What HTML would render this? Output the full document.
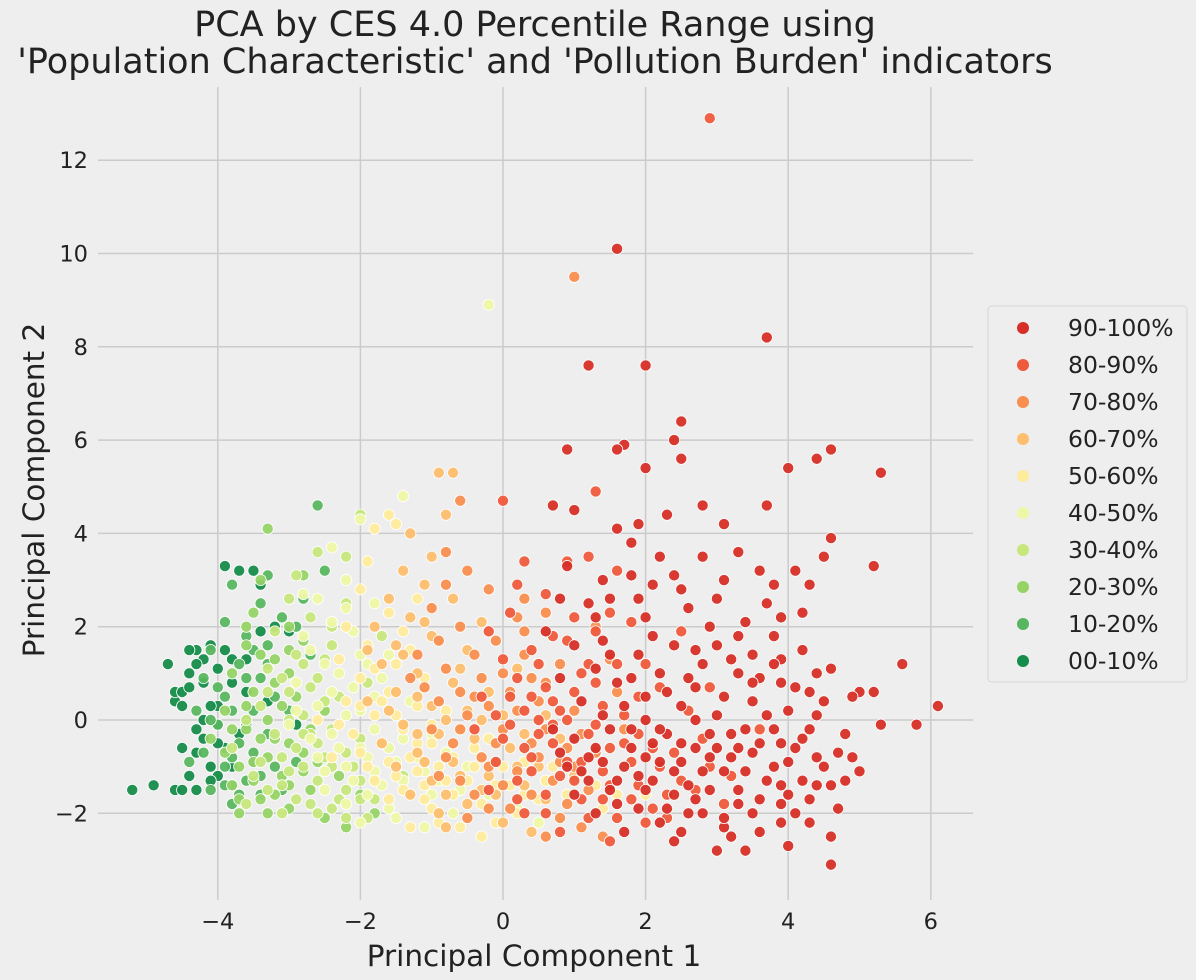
<!DOCTYPE html>
<html><head><meta charset="utf-8"><style>
body{margin:0;background:#eeeeee;}
svg{display:block;font-family:"DejaVu Sans","Liberation Sans",sans-serif;}
</style></head><body>
<svg id="chart" width="1196" height="980" viewBox="0 0 1196 980">
<rect width="1196" height="980" fill="#eeeeee"/>
<text x="535" y="36" text-anchor="middle" font-size="35" fill="#222">PCA by CES 4.0 Percentile Range using</text>
<text x="535" y="73" text-anchor="middle" font-size="35" fill="#222">'Population Characteristic' and 'Pollution Burden' indicators</text>
<g id="grid"></g><g id="ticks"></g><g id="points"></g>
<text x="534" y="966" text-anchor="middle" font-size="29.5" fill="#222">Principal Component 1</text>
<text transform="translate(44,490) rotate(-90)" text-anchor="middle" font-size="29.5" fill="#222">Principal Component 2</text>
<g id="legend">
<rect x="988" y="306" width="199" height="376" rx="4" fill="#eeeeee" stroke="#d6d6d6" stroke-width="1"/>
</g>
</svg>
<script>
const labels=["90-100%","80-90%","70-80%","60-70%","50-60%","40-50%","30-40%","20-30%","10-20%","00-10%"];
const colors=["#d62f27","#ee5a3c","#f88e4f","#fdbe6e","#feeb9c","#eef7a6","#c6e77c","#95d366","#57b65f","#168c4a"];
const xTicks=[-4,-2,0,2,4,6];
const yTicks=[-2,0,2,4,6,8,10,12];
const c90=[[1.6,10.1],[3.7,8.2],[1.2,7.6],[2.0,7.6],[1.7,5.9],[1.6,5.8],[2.4,6.0],[2.5,6.4],[2.5,5.6],[4.0,5.4],[4.6,5.8],[5.3,5.3],[4.4,5.6],[0.9,5.8],[2.0,5.4],[5.6,1.2],[6.1,0.3],[5.8,-0.1],[4.6,-3.1],[4.0,-2.7],[3.7,4.6],[3.3,3.6],[5.2,3.3],[4.6,3.9],[4.5,3.5],[2.8,4.6],[2.3,4.4],[1.9,4.2],[1.6,4.1],[1.0,4.5],[0.7,4.6],[1.8,3.8],[2.4,3.1],[3.1,4.2],[4.1,3.2],[4.3,2.9],[3.8,2.9],[3.0,2.6],[2.1,2.9],[1.8,3.1],[1.2,2.5],[0.8,2.6],[0.6,1.9],[1.4,1.7],[2.0,2.2],[2.6,2.4],[3.4,2.1],[3.8,1.8],[4.2,1.5],[4.6,1.1],[5.0,0.6],[4.9,0.5],[5.2,0.6],[5.3,-0.1],[4.8,-0.3],[4.7,-0.7],[4.5,-1.0],[4.2,-1.3],[3.9,-1.4],[4.4,-1.4],[4.7,-1.9],[4.6,-2.5],[3.9,-2.2],[3.6,-2.4],[3.5,-2.0],[3.1,-2.3],[2.8,-2.0],[2.5,-2.4],[2.3,-1.9],[2.0,-1.5],[1.6,-1.8],[1.2,-1.3],[0.9,-1.0],[1.0,-0.4],[1.5,-0.2],[2.0,0.0],[2.5,0.3],[3.0,0.1],[3.5,0.4],[4.0,0.2],[3.6,-0.5],[3.2,-0.8],[2.7,-0.6],[2.2,-0.9],[1.8,-0.6],[1.4,-0.9],[1.1,0.4],[1.6,0.8],[2.2,1.0],[2.8,1.2],[3.3,1.0],[3.9,0.8],[4.3,0.6],[2.4,1.6],[1.9,1.4],[3.0,1.6],[3.5,1.4],[0.8,0.9],[1.3,1.1],[2.6,-1.4],[3.3,-1.5],[3.8,-1.0],[1.9,-1.2],[2.9,-0.3],[0.7,-0.2],[1.7,0.3],[2.3,-0.3],[3.7,2.5],[4.2,2.3],[1.5,2.6],[2.8,3.5],[0.9,3.3],[2.2,-2.2],[3.0,-2.8],[3.4,-2.8],[4.9,-0.8],[5.0,-1.1],[2.1,-0.5],[2.7,0.7],[3.4,-0.2],[1.3,-0.6],[4.1,-0.6],[3.6,0.9],[2.4,-1.1],[1.8,0.9],[3.1,-1.1],[4.4,0.1],[2.9,2.0],[3.9,1.3],
[1.1,-1.1],[1.3,-2.0],[1.5,-1.5],[1.7,-1.0],[1.9,-1.9],[2.1,-1.3],[2.2,-0.2],[2.4,-1.6],[2.5,-0.9],[2.6,-2.0],[2.7,-1.7],[2.8,-1.1],[2.9,-1.5],[3.0,-0.6],[3.1,-2.1],[3.2,-0.3],[3.3,-1.8],[3.4,-1.1],[3.5,-0.7],[3.6,-1.7],[3.7,-1.3],[3.8,-0.2],[3.9,-1.8],[4.0,-0.9],[4.1,-2.0],[4.2,-0.4],[4.3,-1.7],[4.4,-0.8],[4.6,-1.4],[4.8,-1.3],[1.2,-0.8],[1.4,0.1],[1.6,-1.3],[1.8,-0.2],[2.0,-0.8],[2.3,0.6],[2.5,-0.5],[2.7,0.0],[2.9,-0.8],[3.1,0.5],[3.3,-0.6],[3.5,0.8],[3.7,0.1],[3.9,-0.5],[4.1,0.7],[4.3,-0.2],[4.5,0.4],[2.0,0.5],[2.6,0.9],[3.2,1.3],[3.8,1.2],[4.4,1.0],[1.5,1.4],[2.1,1.8],[2.7,1.5],[3.3,1.8],[3.9,2.2],[1.9,2.6],[2.5,2.8],[3.1,3.0],[3.6,3.2],[1.4,3.0],[2.2,3.5],[1.3,2.2],[1.0,1.6],[0.8,-0.7],[1.0,-1.6],[1.7,-2.4],[2.4,-2.6],[3.2,-2.5],[4.3,-2.2],[4.0,-1.6]];
const c80=[[2.9,12.9],[1.3,4.9],[0.0,4.7],[0.9,3.4],[0.6,2.7],[0.1,2.3],[-0.2,1.9],[0.4,1.5],[0.9,1.7],[1.3,1.9],[1.8,2.1],[0.2,0.9],[0.6,0.7],[1.0,0.6],[1.4,0.3],[1.9,0.5],[0.3,0.2],[0.7,-0.1],[1.2,-0.3],[1.7,-0.5],[0.0,-0.4],[0.4,-0.8],[0.9,-0.9],[1.4,-1.1],[1.9,-1.4],[0.2,-1.3],[0.6,-1.6],[1.1,-1.7],[1.6,-2.1],[2.1,-1.9],[2.5,-1.3],[2.4,-0.7],[2.8,-0.4],[2.6,0.2],[3.2,-1.2],[3.1,-1.8],[1.2,1.2],[0.5,1.2],[-0.3,0.5],[-0.4,-0.2],[1.5,-2.6],[2.3,-2.1],[0.8,-2.4],[2.0,1.2],[2.5,1.9],[1.6,3.2],[0.3,3.4],[1.0,2.2],[-0.1,-0.9],[3.6,-0.2],[2.9,0.7],[0.3,-2.0],[1.8,-0.9],[1.3,0.8],[0.8,0.2],[1.5,-1.4],[0.5,-0.3],[2.2,-1.0],
[0.1,-0.1],[0.3,-0.6],[0.5,0.0],[0.7,-0.5],[0.9,0.0],[1.1,-0.9],[1.3,-0.1],[1.5,-0.6],[1.7,0.1],[1.9,-0.3],[2.1,-0.6],[0.2,-1.7],[0.4,-1.1],[0.6,-2.0],[0.8,-1.2],[1.0,-1.3],[1.2,-2.1],[1.4,-1.7],[1.8,-1.7],[2.0,-2.2],[2.3,-1.6],[2.7,-1.5],[0.1,0.5],[0.4,0.5],[0.7,0.4],[1.1,1.0],[1.6,1.2],[2.2,0.7],[0.0,1.3],[0.7,1.8],[1.5,2.3],[0.2,2.9],[1.2,3.5],[-0.2,-1.5],[-0.1,0.1],[2.9,-1.0]];
const c70=[[1.0,9.5],[-0.6,4.7],[-0.8,3.6],[-0.5,3.2],[-0.2,2.8],[0.3,2.6],[-1.0,2.4],[-0.6,2.0],[-0.1,1.7],[0.3,1.4],[0.8,1.2],[-1.2,1.4],[-0.8,1.1],[-0.3,0.9],[0.1,0.6],[0.5,0.4],[1.0,0.2],[-0.9,0.4],[-0.5,0.1],[0.0,-0.2],[0.4,-0.5],[0.9,-0.6],[1.3,-0.7],[-0.7,-0.5],[-0.3,-0.8],[0.2,-1.1],[0.7,-1.3],[1.2,-1.5],[-0.9,-1.2],[-0.4,-1.6],[0.1,-1.9],[0.8,-2.1],[1.4,-2.5],[-0.8,2.9],[1.3,2.0],[0.6,2.3],[-1.3,0.9],[0.9,-1.8],[-0.2,0.3],[0.4,0.9],[1.6,0.6],[1.7,-0.2],[-1.0,-0.2],[-0.5,-2.1],[0.3,1.9],
[-0.6,-0.2],[-0.4,0.5],[-0.1,-0.5],[0.2,0.2],[0.6,-0.2],[0.8,-0.9],[1.1,-0.3],[-0.8,-0.8],[-0.2,-1.0],[0.5,-0.8],[1.0,-1.0],[-0.6,-1.3],[0.0,-1.4],[0.4,-1.6],[1.1,-2.3],[-1.1,0.7],[-0.6,0.6],[0.0,1.0],[0.6,0.8],[-0.4,1.4],[0.2,2.2],[-0.9,1.7],[1.5,1.3],[-0.2,-1.9],[0.6,-2.5]];
const c60=[[-0.9,5.3],[-0.7,5.3],[-1.3,4.0],[-0.8,4.4],[-1.0,3.5],[-1.4,3.2],[-1.6,2.6],[-1.1,2.9],[-0.7,2.6],[-1.3,2.2],[-1.8,2.0],[-1.5,1.6],[-1.0,1.8],[-0.5,1.5],[-1.7,1.2],[-1.2,1.0],[-0.7,0.8],[-0.2,0.6],[-1.5,0.6],[-1.0,0.3],[-0.5,0.2],[0.0,0.1],[-1.4,-0.1],[-0.9,-0.3],[-0.4,-0.4],[0.1,-0.6],[-1.2,-0.7],[-0.7,-0.9],[-0.2,-1.2],[0.3,-1.4],[-1.0,-1.3],[-0.5,-1.8],[0.0,-2.2],[-0.8,-2.3],[0.5,-1.0],[0.6,0.1],[-1.9,1.5],[-1.6,0.2],[0.2,1.1],[-0.3,2.1],[1.0,-1.2],[-0.1,-1.6],[-1.5,-1.0],[0.4,-2.4],
[-1.1,-0.9],[-0.8,-1.6],[-0.3,-1.5],[0.2,-1.0],[-1.3,-1.6],[-0.6,-1.2],[-0.3,0.0],[-0.8,0.0],[-1.2,0.5],[-0.6,1.1],[-1.4,1.4],[-1.9,0.4],[-1.7,-0.5],[-1.2,-0.3],[0.3,-0.3],[-0.1,-0.9],[0.6,-1.7],[-1.1,2.1],[-0.9,-2.0],[0.8,-0.4]];
const c50=[[-1.8,4.1],[-1.6,4.4],[-1.5,4.2],[-1.9,3.4],[-2.0,2.8],[-1.6,2.3],[-2.2,2.0],[-1.9,1.6],[-1.5,1.2],[-2.3,1.3],[-2.0,0.9],[-1.6,0.6],[-1.2,0.3],[-2.2,0.4],[-1.8,0.1],[-1.4,-0.2],[-1.0,-0.5],[-2.1,-0.3],[-1.7,-0.5],[-1.3,-0.8],[-0.9,-1.0],[-0.5,-1.3],[-1.9,-1.0],[-1.5,-1.2],[-1.1,-1.4],[-0.7,-1.6],[-0.3,-1.8],[0.1,-1.4],[0.5,-1.7],[-1.3,-2.3],[-0.9,-2.2],[-0.3,-2.5],[0.6,-1.3],[0.9,-1.6],[1.3,-1.4],[1.6,-1.6],[0.3,-0.9],[-0.4,-0.6],[-0.8,0.2],[-1.1,0.9],[-2.4,-0.8],[-1.6,-1.7],[-1.4,1.9],[-0.6,-0.2],[0.0,-1.0],[1.1,-1.1],[-1.0,-1.9],[-2.6,0.0],[-1.2,2.6],[2.0,-1.6],[-0.1,-2.2],
[-1.8,-1.3],[-1.4,-1.5],[-1.2,-1.1],[-0.8,-1.3],[-0.4,-1.0],[-0.1,-1.4],[0.3,-1.6],[0.7,-1.0],[-1.6,-0.9],[-1.2,-0.5],[-0.7,-0.8],[-2.0,-0.7],[-1.5,0.1],[-1.0,-0.1],[-1.7,0.4],[-2.0,0.3],[-1.3,1.5],[-1.8,1.1],[-1.1,-1.7],[-0.6,-2.3],[0.2,-2.0],[1.4,-1.9],[-2.3,-0.1],[-0.2,-0.4]];
const c40=[[-0.2,8.9],[-1.4,4.8],[-2.0,4.3],[-2.4,3.7],[-2.2,3.0],[-2.6,2.6],[-1.8,2.5],[-2.4,2.1],[-2.8,1.8],[-2.0,1.4],[-2.5,1.2],[-2.9,0.8],[-2.1,0.7],[-1.7,0.9],[-2.6,0.3],[-2.2,0.1],[-1.8,-0.2],[-1.4,-0.4],[-2.7,-0.4],[-2.3,-0.6],[-1.9,-0.8],[-1.5,-0.9],[-1.1,-1.1],[-2.5,-1.1],[-2.1,-1.3],[-1.7,-1.4],[-1.3,-1.6],[-0.9,-1.3],[-0.5,-1.0],[-2.2,-1.8],[-1.5,-2.1],[-1.1,-2.3],[-0.7,-2.0],[-0.2,-1.6],[0.2,-1.9],[-1.0,-0.3],[-1.3,0.4],[-3.0,-0.1],[-2.0,-2.2],[-1.6,1.4],[-2.8,2.7],[-0.8,-0.7],[0.5,-2.2],[-1.8,0.5],
[-2.4,-0.3],[-2.0,-0.6],[-1.6,-0.6],[-1.2,-0.8],[-2.2,-1.0],[-1.8,-1.1],[-1.4,-1.3],[-1.0,-1.6],[-2.6,-0.8],[-2.4,0.6],[-2.0,0.2],[-1.6,0.2],[-2.3,1.0],[-1.9,1.2],[-2.7,1.5],[-2.1,1.9],[-2.5,-1.5],[-1.9,-1.6],[-1.6,-1.9],[-0.6,-1.5],[-2.9,0.2],[-2.2,2.4]];
const c30=[[-2.0,4.4],[-2.6,3.6],[-2.9,3.1],[-2.2,3.5],[-3.0,2.6],[-2.7,2.2],[-3.2,1.9],[-2.4,1.6],[-2.9,1.4],[-3.3,1.1],[-2.6,0.9],[-3.0,0.6],[-2.3,0.5],[-3.4,0.3],[-2.8,0.1],[-2.4,-0.2],[-2.0,-0.4],[-3.2,-0.3],[-2.9,-0.6],[-2.5,-0.8],[-2.1,-1.0],[-3.4,-0.9],[-3.0,-1.1],[-2.6,-1.3],[-2.2,-1.5],[-1.8,-1.7],[-3.3,-1.5],[-2.9,-1.7],[-2.4,-1.9],[-1.9,-2.1],[-3.6,-1.8],[-2.6,-2.0],[-1.6,-0.6],[-1.9,0.8],[-3.6,0.0],[-3.1,-2.0],[-2.2,2.5],[-1.7,1.8],[-3.8,-0.6],[-1.4,-1.2],[-2.0,-1.7],[-2.7,-0.3],[-3.5,-1.2],
[-2.8,-0.3],[-2.6,-0.5],[-2.4,-1.0],[-2.2,-0.7],[-2.0,-1.3],[-2.8,-1.0],[-3.1,-0.8],[-2.7,-1.8],[-2.3,-1.7],[-2.5,0.4],[-2.7,0.7],[-3.1,0.9],[-2.5,1.3],[-2.8,1.2],[-3.1,-1.4],[-2.2,-2.1],[-3.3,0.6],[-2.4,2.0],[-1.8,-1.3],[-3.0,0.0]];
const c20=[[-3.3,4.1],[-2.8,3.1],[-3.4,3.0],[-3.5,2.3],[-3.0,2.0],[-2.8,1.7],[-3.6,1.6],[-3.2,1.3],[-3.8,1.0],[-3.5,0.6],[-3.1,0.3],[-3.9,0.2],[-3.6,-0.2],[-3.2,-0.4],[-2.8,-0.7],[-3.9,-0.7],[-3.5,-0.9],[-3.1,-1.2],[-2.7,-1.5],[-3.8,-1.4],[-3.4,-1.7],[-3.0,-1.9],[-2.5,-2.1],[-2.2,-2.3],[-3.7,-1.7],[-3.3,-2.0],[-2.9,0.5],[-2.5,0.2],[-2.6,-0.9],[-2.3,-1.2],[-2.0,-1.6],[-4.1,-0.4],[-3.0,1.0],[-3.3,-0.8],[-1.8,-2.0],
[-3.0,-0.5],[-3.4,-0.4],[-3.7,-1.0],[-3.2,-1.6],[-2.8,-1.1],[-3.6,0.3],[-3.3,0.0],[-3.0,-1.4],[-3.5,-1.3],[-3.2,0.8],[-3.4,1.4],[-3.0,1.5],[-2.7,-0.2],[-3.8,-0.2],[-3.6,2.0],[-3.7,-2.0]];
const c10=[[-2.6,4.6],[-3.3,3.1],[-3.8,2.9],[-3.4,2.5],[-3.9,2.1],[-3.1,2.2],[-3.6,1.8],[-4.1,1.5],[-3.3,1.6],[-3.7,1.2],[-4.2,0.9],[-3.4,0.9],[-3.9,0.5],[-4.3,0.2],[-3.5,0.2],[-4.0,-0.1],[-3.3,-0.3],[-3.7,-0.5],[-4.2,-0.7],[-3.5,-0.7],[-3.9,-1.0],[-3.2,-1.0],[-3.6,-1.3],[-4.1,-1.5],[-3.1,-1.5],[-3.4,-1.6],[-2.9,-0.9],[-2.7,1.4],[-2.9,2.0],[-3.0,0.2],[-4.4,-0.9],[-3.8,-1.8],[-2.8,2.6],[-2.5,3.2],
[-3.6,-0.1],[-3.8,-0.8],[-3.4,-1.2],[-3.8,0.2],[-3.6,0.9],[-3.2,0.5],[-4.0,0.7],[-3.5,1.5],[-3.9,-1.4],[-3.7,-1.6],[-3.3,1.2],[-4.1,0.0]];
const c00=[[-5.2,-1.5],[-4.9,-1.4],[-4.6,-1.5],[-4.5,-1.5],[-4.4,-1.2],[-4.3,-0.7],[-4.5,-0.6],[-4.1,-1.0],[-4.0,-1.2],[-3.8,-1.4],[-3.9,-0.6],[-4.2,-0.4],[-3.7,-0.3],[-4.0,-0.1],[-3.6,0.0],[-4.6,0.4],[-4.5,0.3],[-4.6,0.6],[-4.5,0.6],[-4.4,1.0],[-4.7,1.2],[-4.2,1.3],[-4.1,1.6],[-4.0,1.1],[-3.8,0.8],[-3.9,1.5],[-3.6,1.3],[-4.3,1.5],[-3.9,3.3],[-3.7,3.2],[-3.5,3.2],[-3.4,2.9],[-3.2,2.0],[-3.0,1.9],[-3.4,1.9],[-4.4,1.5],[-4.0,0.3],[-3.5,-0.9],[-2.9,-0.1],[-3.6,0.6],[-3.3,0.4],[-4.2,0.8],
[-4.3,-1.5],[-4.1,-1.3],[-4.3,-0.2],[-4.1,0.3],[-3.8,-1.0],[-4.2,0.0],[-4.4,0.7],[-4.3,1.2],[-3.8,1.3],[-4.0,-0.5]];
const series=[c90,c80,c70,c60,c50,c40,c30,c20,c10,c00];

const NS="http://www.w3.org/2000/svg";
function X(v){return 503+v*71.3;}
function Y(v){return 720-v*46.65;}
function mk(tag,attrs,parent){const e=document.createElementNS(NS,tag);for(const k in attrs)e.setAttribute(k,attrs[k]);parent.appendChild(e);return e;}
const grid=document.getElementById('grid'),ticks=document.getElementById('ticks'),pts=document.getElementById('points'),leg=document.getElementById('legend');
xTicks.forEach(t=>{
  const l=mk('line',{x1:X(t),x2:X(t),y1:87,y2:900,stroke:'#cbcbcb','stroke-width':1.5},grid);
  
  
  const tx=mk('text',{x:X(t),y:929,'text-anchor':'middle','font-size':22.5,fill:'#222'},ticks);
  tx.textContent=t<0?'\u2212'+Math.abs(t):String(t);
  
  
});
yTicks.forEach(t=>{
  const l=mk('line',{x1:98,x2:973,y1:Y(t),y2:Y(t),stroke:'#cbcbcb','stroke-width':1.5},grid);
  
  
  const tx=mk('text',{x:88,y:Y(t)+8,'text-anchor':'end','font-size':22.5,fill:'#222'},ticks);
  tx.textContent=t<0?'\u2212'+Math.abs(t):String(t);
  
  
});
for(let s=series.length-1;s>=0;s--){
  series[s].forEach(p=>{
    const c=mk('circle',{cx:X(p[0]),cy:Y(p[1]),r:5.6,fill:colors[s],stroke:'#ffffff','stroke-width':0.8,'fill-opacity':0.95},pts);
    
    
  });
}
labels.forEach((lab,i)=>{
  const y=328+i*37;
  const c=mk('circle',{cx:1023,cy:y,r:6,fill:colors[i]},leg);
  
  
  const t=mk('text',{x:1068,y:y+8,'font-size':23.5,fill:'#222'},leg);
  t.textContent=lab;
  
  
});
</script>
</body></html>
